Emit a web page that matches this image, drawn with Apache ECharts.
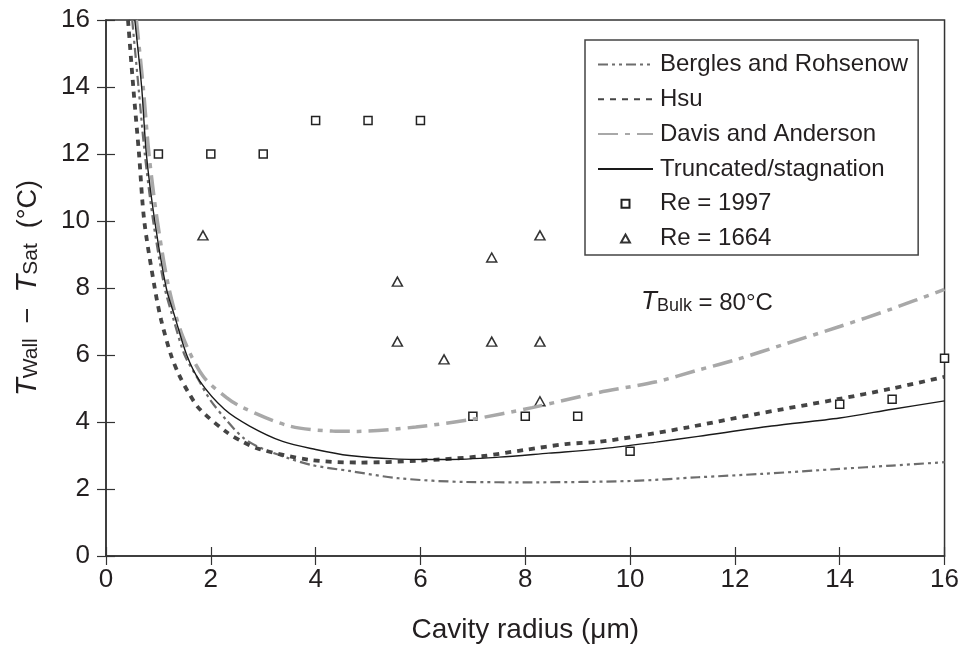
<!DOCTYPE html>
<html>
<head>
<meta charset="utf-8">
<script src="https://cdn.jsdelivr.net/npm/echarts@6/dist/echarts.min.js"></script>
<style>
  html, body { margin: 0; padding: 0; background: #ffffff; }
  #chart { width: 962px; height: 649px; }
</style>
</head>
<body>
<div id="chart"></div>
<script>
  // ticks
  var xTicks = [0, 2, 4, 6, 8, 10, 12, 14, 16];
  var yTicks = [0, 2, 4, 6, 8, 10, 12, 14, 16];

  // Bergles and Rohsenow
  var brX = [0.5, 0.62, 0.74, 0.9, 1.12, 1.3, 1.5, 1.75, 1.98, 2.3, 2.61, 2.93, 3.44, 3.94, 4.64, 5.59, 6.86, 8.13, 10.03, 11.3, 12.5, 14, 15, 16];
  var brY = [16, 14, 12, 10, 8, 7, 6, 5.3, 4.68, 4.05, 3.54, 3.24, 2.94, 2.71, 2.54, 2.32, 2.21, 2.2, 2.24, 2.35, 2.45, 2.6, 2.7, 2.8];

  // Hsu
  var hsuX = [0.42, 0.52, 0.63, 0.73, 0.93, 1.05, 1.24, 1.39, 1.57, 1.79, 2.3, 2.61, 2.93, 3.88, 4.83, 5.91, 7.17, 8.0, 8.77, 9.4, 10.03, 11.1, 12.38, 13.96, 15, 16];
  var hsuY = [16, 14, 12, 10, 8, 7.06, 6, 5.42, 4.89, 4.38, 3.7, 3.41, 3.19, 2.87, 2.79, 2.84, 2.98, 3.17, 3.34, 3.41, 3.55, 3.84, 4.23, 4.68, 5.0, 5.35];

  // Davis and Anderson
  var davisX = [0.58, 0.71, 0.82, 0.98, 1.2, 1.46, 1.85, 2.3, 2.61, 3.5, 4.32, 4.8, 5.91, 6.99, 8.13, 9.4, 10.5, 11.3, 12, 13, 14, 15, 16];
  var davisY = [16, 14, 12, 10, 8, 6.57, 5.37, 4.73, 4.43, 3.88, 3.73, 3.72, 3.85, 4.08, 4.43, 4.88, 5.2, 5.55, 5.85, 6.35, 6.85, 7.38, 7.96];

  // Truncated/stagnation
  var truncX = [0.55, 0.68, 0.77, 0.93, 1.15, 1.31, 1.54, 1.79, 2.26, 2.74, 3.37, 4, 4.64, 5.5, 6.5, 7.5, 8.45, 9.4, 10.5, 11.3, 12.7, 14, 15, 16];
  var truncY = [16, 14, 12, 10, 8, 7.16, 6, 5.22, 4.38, 3.88, 3.42, 3.18, 3.0, 2.9, 2.88, 2.95, 3.07, 3.19, 3.4, 3.57, 3.88, 4.12, 4.38, 4.63];

  // Re = 1997 (squares)
  var re1997X = [1, 2, 3, 4, 5, 6, 7, 8, 9, 10, 14, 15, 16];
  var re1997Y = [12, 12, 12, 13, 13, 13, 4.17, 4.17, 4.17, 3.13, 4.53, 4.68, 5.9];

  // Re = 1664 (triangles)
  var re1664X = [1.85, 5.56, 5.56, 6.45, 7.36, 7.36, 8.28, 8.28, 8.28];
  var re1664Y = [9.57, 8.19, 6.4, 5.87, 8.91, 6.4, 9.57, 6.4, 4.62];

  function pairs(xs, ys) {
    return xs.map(function (x, i) { return [x, ys[i]]; });
  }

  var font = '"Liberation Sans", Arial, Helvetica, sans-serif';
  var ink = '#231f20';

  var myChart = echarts.init(document.getElementById('chart'));

  var axisBase = {
    type: 'value',
    min: 0,
    max: 16,
    interval: 2
  };

  // rich styles for T_sub labels
  function subRich(big, small, num) {
    return {
      t: { fontFamily: font, fontSize: big, fontStyle: 'italic', fontWeight: 'normal', color: ink, lineHeight: 32, verticalAlign: 'bottom' },
      s: { fontFamily: font, fontSize: small, fontWeight: 'normal', color: ink, lineHeight: 16, verticalAlign: 'bottom' },
      n: { fontFamily: font, fontSize: num, fontWeight: 'normal', color: ink, lineHeight: 32, verticalAlign: 'bottom' }
    };
  }

  var lineLegendStyle = { opacity: 0 };

  var option = {
    backgroundColor: '#ffffff',
    animation: false,
    textStyle: { fontFamily: font, color: ink },
    title: {
      left: 636,
      top: 278,
      text: '{t|T}{s|Bulk}{n| = 80°C}',
      textStyle: { fontWeight: 'normal', rich: subRich(26, 18, 24) }
    },
    grid: {
      left: 106,
      right: 15,
      top: 20,
      bottom: 92,
      show: true,
      borderColor: '#333',
      borderWidth: 1.5
    },
    legend: {
      orient: 'vertical',
      left: 585,
      top: 40,
      padding: [12, 10, 4, 12],
      itemWidth: 55,
      itemHeight: 8,
      itemGap: 9.8,
      borderColor: '#444',
      borderWidth: 1.5,
      backgroundColor: '#ffffff',
      textStyle: { fontFamily: font, fontSize: 24, color: ink, lineHeight: 25, padding: [0, 0, 0, 2] },
      data: [
        { name: 'Bergles and Rohsenow', itemStyle: lineLegendStyle },
        { name: 'Hsu', itemStyle: lineLegendStyle },
        { name: 'Davis and Anderson', itemStyle: lineLegendStyle },
        { name: 'Truncated/stagnation', itemStyle: lineLegendStyle },
        { name: 'Re = 1997', icon: 'path://M0,0H10V10H0Z' },
        { name: 'Re = 1664', icon: 'path://M5,0L10,9L0,9Z' }
      ]
    },
    xAxis: [
      Object.assign({}, axisBase, {
        position: 'bottom',
        name: 'Cavity radius (μm)',
        nameLocation: 'middle',
        nameGap: 60,
        nameTextStyle: { fontFamily: font, fontSize: 28, color: ink },
        axisLine: { show: true, onZero: false, lineStyle: { color: '#333', width: 1.5 } },
        axisTick: { show: true, inside: false, length: 9, lineStyle: { color: '#333', width: 1.2 } },
        axisLabel: { fontFamily: font, fontSize: 26, color: ink, margin: 11 },
        splitLine: { show: false }
      }),
      Object.assign({}, axisBase, {
        position: 'bottom',
        axisLine: { show: false },
        axisTick: { show: true, inside: true, length: 9, lineStyle: { color: '#333', width: 1.2 } },
        axisLabel: { show: false },
        splitLine: { show: false }
      })
    ],
    yAxis: [
      Object.assign({}, axisBase, {
        position: 'left',
        name: '{t|T}{s|Wall}{n|  −  }{t|T}{s|Sat}{n|  (°C)}',
        nameLocation: 'middle',
        nameGap: 64,
        nameRotate: 90,
        nameTextStyle: { rich: subRich(29, 21, 27) },
        axisLine: { show: true, onZero: false, lineStyle: { color: '#333', width: 1.5 } },
        axisTick: { show: true, inside: false, length: 9, lineStyle: { color: '#333', width: 1.2 } },
        axisLabel: { fontFamily: font, fontSize: 26, color: ink, margin: 16 },
        splitLine: { show: false }
      }),
      Object.assign({}, axisBase, {
        position: 'left',
        axisLine: { show: false },
        axisTick: { show: true, inside: true, length: 9, lineStyle: { color: '#333', width: 1.2 } },
        axisLabel: { show: false },
        splitLine: { show: false }
      })
    ],
    series: [
      {
        name: 'Bergles and Rohsenow',
        type: 'line',
        data: pairs(brX, brY),
        smooth: 0.3,
        symbol: 'none',
        clip: true,
        lineStyle: { color: '#6d6d6d', width: 2.2, type: [10, 4, 3, 4, 3, 4] },
        itemStyle: { color: '#6d6d6d' }
      },
      {
        name: 'Hsu',
        type: 'line',
        data: pairs(hsuX, hsuY),
        smooth: 0.3,
        symbol: 'none',
        clip: true,
        lineStyle: { color: '#444444', width: 3.8, type: [6, 6] },
        itemStyle: { color: '#444444' }
      },
      {
        name: 'Davis and Anderson',
        type: 'line',
        data: pairs(davisX, davisY),
        smooth: 0.3,
        symbol: 'none',
        clip: true,
        lineStyle: { color: '#a8a8a8', width: 3.5, type: [20, 7, 5, 7] },
        itemStyle: { color: '#a8a8a8' }
      },
      {
        name: 'Truncated/stagnation',
        type: 'line',
        data: pairs(truncX, truncY),
        smooth: 0.3,
        symbol: 'none',
        clip: true,
        lineStyle: { color: '#1a1a1a', width: 1.4, type: 'solid' },
        itemStyle: { color: '#1a1a1a' }
      },
      {
        name: 'Re = 1997',
        type: 'scatter',
        data: pairs(re1997X, re1997Y),
        symbol: 'rect',
        symbolSize: 8,
        clip: false,
        itemStyle: { color: '#ffffff', borderColor: '#222', borderWidth: 1.5, opacity: 1 }
      },
      {
        name: 'Re = 1664',
        type: 'scatter',
        data: pairs(re1664X, re1664Y),
        symbol: 'triangle',
        symbolSize: [10, 9],
        clip: false,
        itemStyle: { color: '#ffffff', borderColor: '#333', borderWidth: 1.5, opacity: 1 }
      }
    ]
  };

  myChart.setOption(option);
</script>
</body>
</html>
